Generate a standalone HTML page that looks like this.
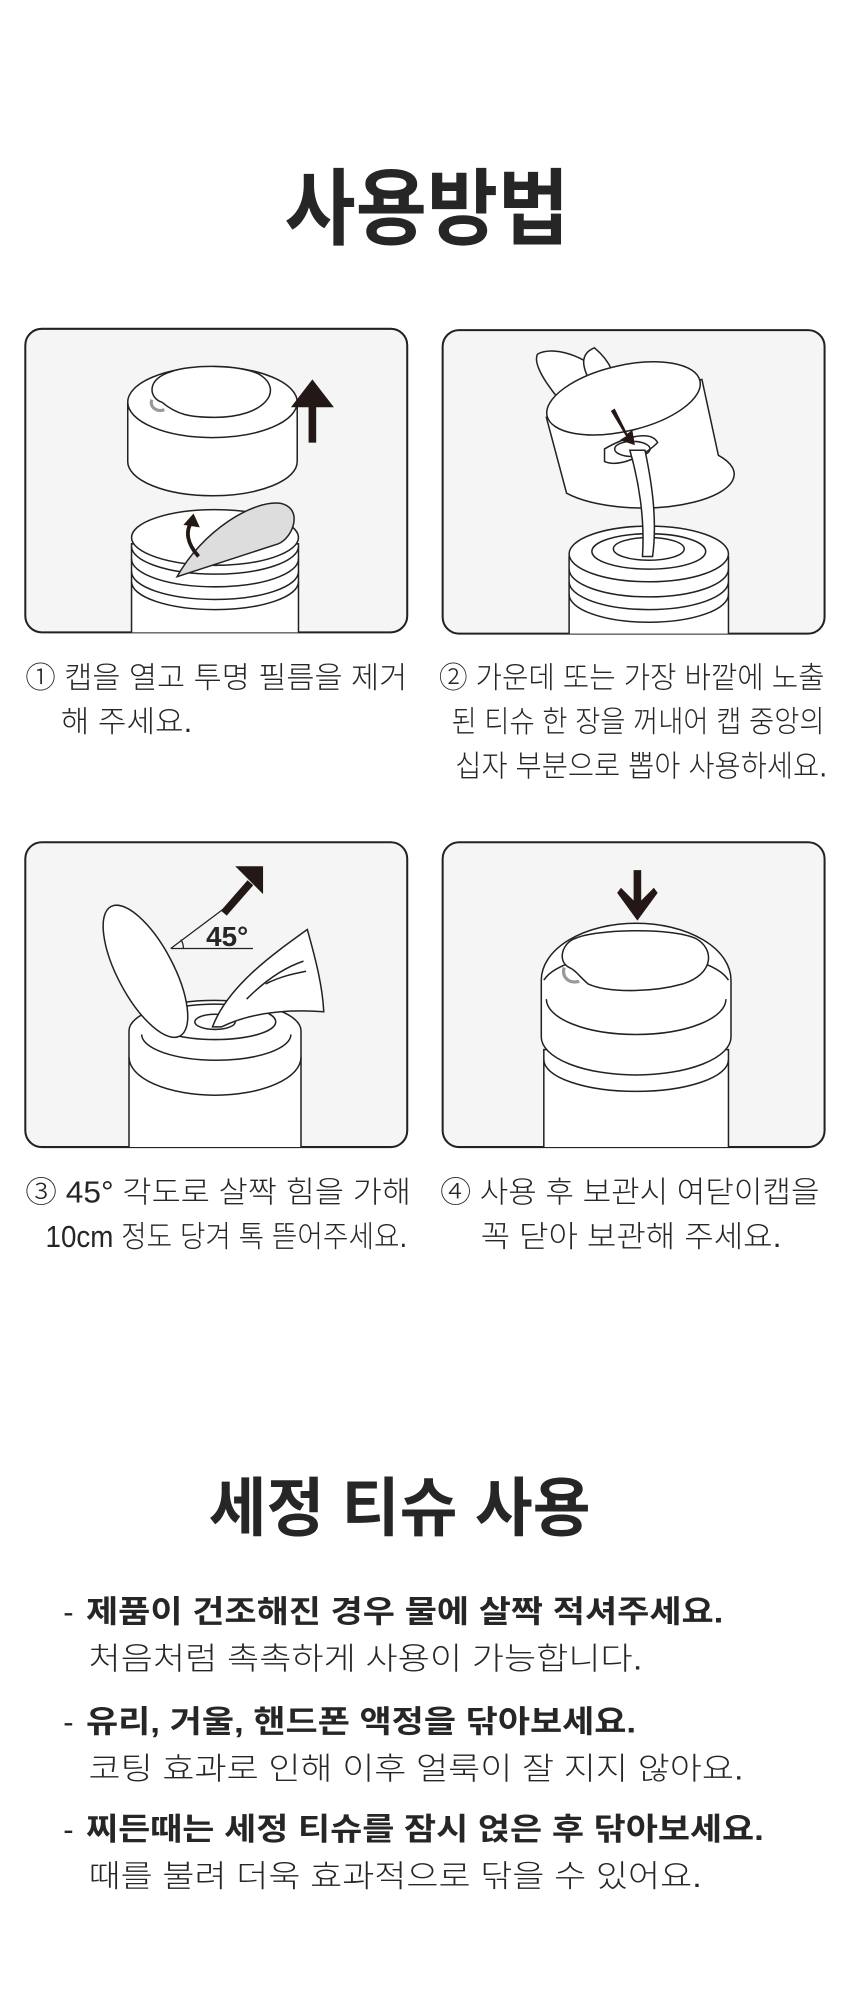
<!DOCTYPE html>
<html><head><meta charset="utf-8"><style>
html,body{margin:0;padding:0;background:#fff;}
svg{display:block;}
text{font-family:"Liberation Sans","Noto Sans CJK KR",sans-serif;fill:#262626;}
.cap{font-size:24px;font-weight:300;}
.b{font-size:24.5px;font-weight:700;}
.n{font-size:24.5px;font-weight:300;}
</style></head><body>
<svg width="860" height="2004" viewBox="0 0 680 1584.6" xmlns="http://www.w3.org/2000/svg">
<text x="225" y="188" font-size="66" font-weight="700" textLength="225" lengthAdjust="spacingAndGlyphs">사용방법</text>

<g fill="#f5f5f5" stroke="#222" stroke-width="1.6">
<rect x="20" y="260" width="302" height="240" rx="13"/>
<rect x="350" y="261" width="302" height="240" rx="13"/>
<rect x="20" y="666" width="302" height="241" rx="13"/>
<rect x="350" y="666" width="302" height="241" rx="13"/>
</g>

<!-- panel 1 -->
<g fill="#fff" stroke="#222" stroke-width="1.2">
<path d="M104,500 L104,430 L236,430 L236,500"/>
<path d="M104,432 A66,22 0 0 0 236,432"/>
<path d="M104,442 A66,22 0 0 0 236,442" fill="none"/>
<path d="M104,452 A66,22 0 0 0 236,452" fill="none"/>
<path d="M104,460 A66,22 0 0 0 236,460" fill="none"/>
<ellipse cx="170" cy="425" rx="66" ry="22"/>
<path d="M140,456 C160,420 200,395 222,398 C240,402 232,425 220,430 Z" fill="#ddd"/>
<path d="M101,318 L101,365 A67,27 0 0 0 235,365 L235,318"/>
<ellipse cx="168" cy="318" rx="67" ry="28"/>
<path d="M128,318 C118,315 115,300 135,294 C150,288 190,288 205,296 C225,308 210,330 170,330 C150,330 140,328 128,318 Z"/>
<path d="M120,316 C118,322 124,326 130,324" fill="none" stroke="#999" stroke-width="2.5"/>
</g>
<path d="M244,350 L250,350 L250,322 L264,322 L247,300 L230,322 L244,322 Z" fill="#231815"/>
<path d="M157,440 C148,430 146,420 152,412" fill="none" stroke="#231815" stroke-width="3"/>
<path d="M145,415 L153,406 L158,417 Z" fill="#231815"/>

<!-- panel 2 -->
<g fill="#fff" stroke="#222" stroke-width="1.2">
<path d="M450,501 L450,440 L576,440 L576,501"/>
<path d="M450,450 A63,22 0 0 0 576,450" fill="none"/>
<path d="M450,460 A63,22 0 0 0 576,460" fill="none"/>
<path d="M450,470 A63,22 0 0 0 576,470" fill="none"/>
<ellipse cx="513" cy="438" rx="63" ry="22"/>
<ellipse cx="513" cy="436" rx="45" ry="14" fill="none"/>
<ellipse cx="513" cy="434" rx="28" ry="9" fill="none"/>
<path d="M455,330 C440,315 420,290 425,280 C440,272 470,285 478,300" />
<path d="M468,305 C460,290 458,280 470,275 C482,285 490,300 484,310"/>
<path d="M432,330 L448,390 A68,25 0 0 0 568,360 L555,300 Z"/>
<ellipse cx="493" cy="315" rx="62" ry="26" transform="rotate(-13 493 315)"/>
<path d="M478,365 C490,370 510,360 520,350 C515,340 495,345 478,355 Z" fill="#fff"/>
<ellipse cx="500" cy="355" rx="14" ry="6" fill="none"/>
<path d="M498,356 C505,380 510,410 508,440 L516,440 C520,410 515,380 510,356 Z"/>
</g>
<path d="M483,325 L495,345 L490,348 L502,352 L500,340 L496,343 L486,323 Z" fill="#231815"/>

<!-- panel 3 -->
<g fill="#fff" stroke="#222" stroke-width="1.2">
<path d="M102,907 L102,815 A68,24 0 0 1 238,815 L238,907"/>
<path d="M102,836 A68,30 0 0 0 238,836" fill="none"/>
<path d="M112,818 A58,20 0 0 0 230,818" fill="none"/>
<ellipse cx="170" cy="808" rx="48" ry="14"/>
<ellipse cx="170" cy="808" rx="16" ry="6" fill="none"/>
<ellipse cx="115" cy="768" rx="22" ry="58" transform="rotate(-28 115 768)"/>
<path d="M168,812 C180,780 215,755 243,735 C250,760 255,780 256,800 C230,798 200,800 175,812 Z"/>
<path d="M195,790 C210,775 225,765 240,760" fill="none"/>
<path d="M210,778 C222,772 232,770 242,768" fill="none"/>
</g>
<path d="M135,750 L200,750 M135,750 L195,705" stroke="#222" stroke-width="1" fill="none"/>
<path d="M145,750 A12,12 0 0 0 143,743" stroke="#222" stroke-width="1" fill="none"/>
<text x="163" y="748" font-size="22" font-weight="700">45°</text>
<path d="M177,722 L198,698" stroke="#231815" stroke-width="6"/>
<path d="M186,685 L208,685 L208,707 Z" fill="#231815"/>

<!-- panel 4 -->
<g fill="#fff" stroke="#222" stroke-width="1.2">
<path d="M430,907 L430,830 L576,830 L576,907"/>
<path d="M430,838 A73,25 0 0 0 576,838" fill="none"/>
<path d="M428,775 L428,820 A75,30 0 0 0 578,820 L578,775 A75,45 0 0 0 428,775 Z"/>
<path d="M430,775 A75,28 0 0 1 576,775" fill="none"/>
<path d="M432,790 A71,28 0 0 0 574,790" fill="none"/>
<path d="M450,765 C440,760 445,745 455,742 C470,735 530,733 550,742 C565,750 565,770 540,778 C515,785 480,785 465,778 C458,772 455,767 450,765 Z"/>
<path d="M446,765 C444,773 450,778 458,776" fill="none" stroke="#999" stroke-width="2.5"/>
</g>
<path d="M501,688 L507,688 L507,712 L517,702 L520,706 L504,728 L488,706 L491,702 L501,712 Z" fill="#231815"/>

<!-- captions -->
<text class="cap" x="20" y="544" textLength="302" lengthAdjust="spacingAndGlyphs">① 캡을 열고 투명 필름을 제거</text>
<text class="cap" x="48" y="579" textLength="104" lengthAdjust="spacingAndGlyphs">해 주세요.</text>
<text class="cap" x="347" y="544" textLength="305" lengthAdjust="spacingAndGlyphs">② 가운데 또는 가장 바깥에 노출</text>
<text class="cap" x="357" y="579" textLength="295" lengthAdjust="spacingAndGlyphs">된 티슈 한 장을 꺼내어 캡 중앙의</text>
<text class="cap" x="360" y="614" textLength="294" lengthAdjust="spacingAndGlyphs">십자 부분으로 뽑아 사용하세요.</text>
<text class="cap" x="20" y="951" textLength="305" lengthAdjust="spacingAndGlyphs">③ 45° 각도로 살짝 힘을 가해</text>
<text class="cap" x="36" y="986" textLength="286" lengthAdjust="spacingAndGlyphs">10cm 정도 당겨 톡 뜯어주세요.</text>
<text class="cap" x="348" y="951" textLength="300" lengthAdjust="spacingAndGlyphs">④ 사용 후 보관시 여닫이캡을</text>
<text class="cap" x="380" y="986" textLength="238" lengthAdjust="spacingAndGlyphs">꼭 닫아 보관해 주세요.</text>

<text x="165" y="1210" font-size="51" font-weight="700" textLength="302" lengthAdjust="spacingAndGlyphs">세정 티슈 사용</text>

<text class="n" x="50" y="1283">-</text><text class="b" x="68" y="1283" textLength="504" lengthAdjust="spacingAndGlyphs">제품이 건조해진 경우 물에 살짝 적셔주세요.</text>
<text class="n" x="70" y="1320" textLength="438" lengthAdjust="spacingAndGlyphs">처음처럼 촉촉하게 사용이 가능합니다.</text>
<text class="n" x="50" y="1370">-</text><text class="b" x="68" y="1370" textLength="435" lengthAdjust="spacingAndGlyphs">유리, 거울, 핸드폰 액정을 닦아보세요.</text>
<text class="n" x="70" y="1407" textLength="518" lengthAdjust="spacingAndGlyphs">코팅 효과로 인해 이후 얼룩이 잘 지지 않아요.</text>
<text class="n" x="50" y="1455">-</text><text class="b" x="68" y="1455" textLength="536" lengthAdjust="spacingAndGlyphs">찌든때는 세정 티슈를 잠시 얹은 후 닦아보세요.</text>
<text class="n" x="70" y="1492" textLength="485" lengthAdjust="spacingAndGlyphs">때를 불려 더욱 효과적으로 닦을 수 있어요.</text>
</svg>
</body></html>
